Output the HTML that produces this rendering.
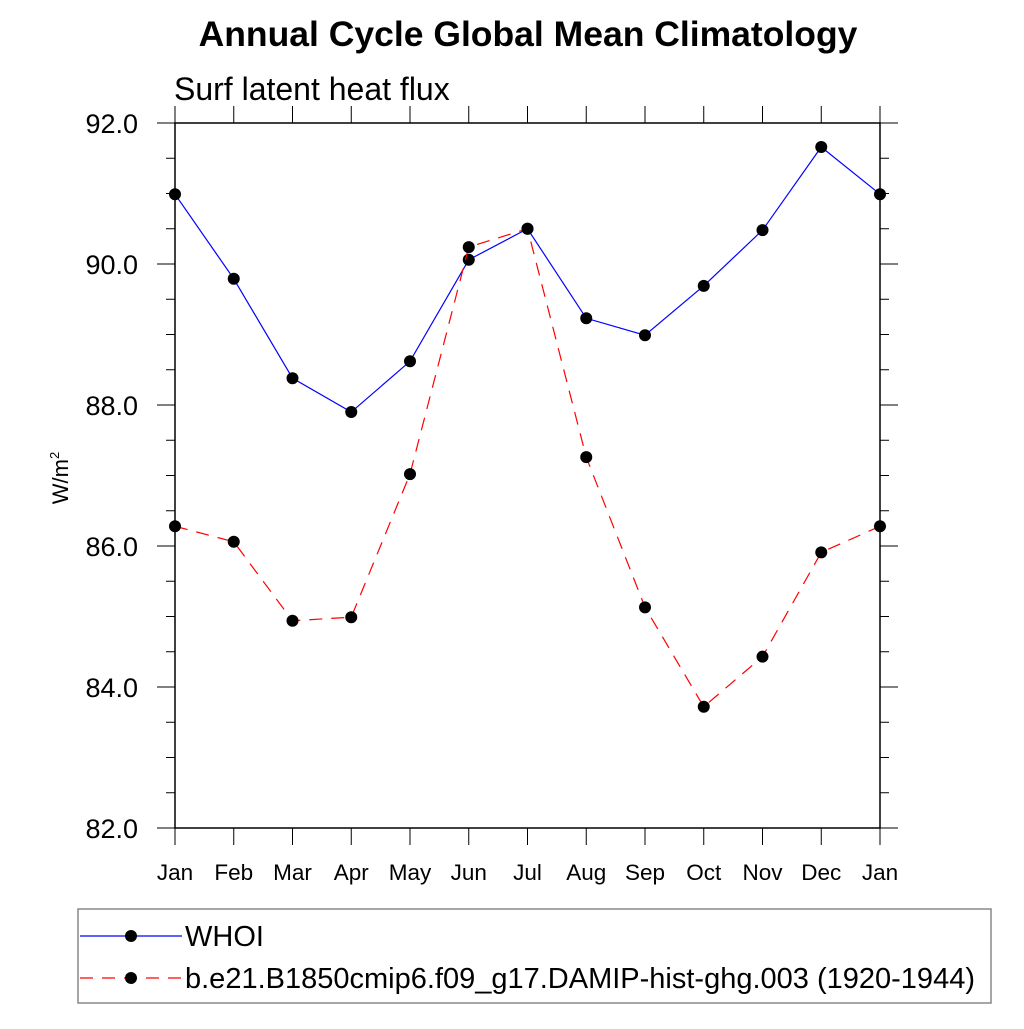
<!DOCTYPE html>
<html><head><meta charset="utf-8"><style>
body{margin:0;background:#fff}
svg text{font-family:"Liberation Sans",sans-serif}
</style></head><body>
<svg id="chart" width="1024" height="1024" xmlns="http://www.w3.org/2000/svg">
<text x="528" y="46" font-size="35.5" font-weight="bold" text-anchor="middle">Annual Cycle Global Mean Climatology</text>
<text x="174" y="100" font-size="32">Surf latent heat flux</text>
<text transform="translate(68,478) rotate(-90)" font-size="22" text-anchor="middle">W/m<tspan font-size="13" dy="-9">2</tspan></text>
<g id="axes"></g>
<g id="series"></g>
<g>
<rect x="78" y="909" width="913" height="94" fill="none" stroke="#888" stroke-width="1.5"/>
<line x1="80" y1="936" x2="182" y2="936" stroke="blue" stroke-width="1.2"/>
<circle cx="131" cy="936" r="6" fill="#000"/>
<text x="185" y="946" font-size="29">WHOI</text>
<line x1="80" y1="978" x2="182" y2="978" stroke="red" stroke-width="1.2" stroke-dasharray="13,9"/>
<circle cx="131" cy="978" r="6" fill="#000"/>
<text x="185" y="988" font-size="29" textLength="790">b.e21.B1850cmip6.f09_g17.DAMIP-hist-ghg.003 (1920-1944)</text>
</g>
</svg>
<script>
const months=["Jan","Feb","Mar","Apr","May","Jun","Jul","Aug","Sep","Oct","Nov","Dec","Jan"];
const whoi=[90.99,89.79,88.38,87.90,88.62,90.06,90.50,89.23,88.99,89.69,90.48,91.66,90.99];
const model=[86.28,86.06,84.94,84.99,87.02,90.24,90.50,87.26,85.13,83.72,84.43,85.91,86.28];
const yTicks=[82,84,86,88,90,92];
const L=175,R=880,T=123,B=828,ymin=82,ymax=92;
const NS="http://www.w3.org/2000/svg";
const xs=i=>L+(R-L)*i/(months.length-1);
const ys=v=>B-(v-ymin)/(ymax-ymin)*(B-T);
function mk(t,a,p){const e=document.createElementNS(NS,t);for(const k in a)e.setAttribute(k,a[k]);p.appendChild(e);return e;}
const ax=document.getElementById('axes');
const frame=mk('rect',{x:L,y:T,width:R-L,height:B-T,fill:'none',stroke:'#000','stroke-width':1.5},ax);


for(let v=ymin;v<=ymax+1e-9;v+=0.5){
  const major=Math.abs(v/2-Math.round(v/2))<1e-9;const len=major?18:9;const y=ys(v);
  mk('line',{x1:L-len,y1:y,x2:L,y2:y,stroke:'#000','stroke-width':1},ax);
  mk('line',{x1:R,y1:y,x2:R+len,y2:y,stroke:'#000','stroke-width':1},ax);
}
yTicks.forEach(v=>{const t=mk('text',{x:138,y:ys(v)+10,'font-size':27,'text-anchor':'end'},ax);t.textContent=v.toFixed(1);

});
months.forEach((m,i)=>{const x=xs(i);
  mk('line',{x1:x,y1:B,x2:x,y2:B+17,stroke:'#000','stroke-width':1},ax);
  mk('line',{x1:x,y1:T-17,x2:x,y2:T,stroke:'#000','stroke-width':1},ax);
  const t=mk('text',{x:x,y:B+52,'font-size':22.5,'text-anchor':'middle'},ax);t.textContent=m;
  
  
});
const sg=document.getElementById('series');
function draw(vals,color,dash,name){
  const pts=vals.map((v,i)=>xs(i)+','+ys(v)).join(' ');
  const pl=mk('polyline',{points:pts,fill:'none',stroke:color,'stroke-width':1.2},sg);
  if(dash)pl.setAttribute('stroke-dasharray',dash);
  
  
  vals.forEach((v,i)=>{const c=mk('circle',{cx:xs(i),cy:ys(v),r:6,fill:'#000'},sg);
    
    });
}
draw(whoi,'blue',null,'whoi');
draw(model,'red','13,9','model');
</script>
</body></html>
